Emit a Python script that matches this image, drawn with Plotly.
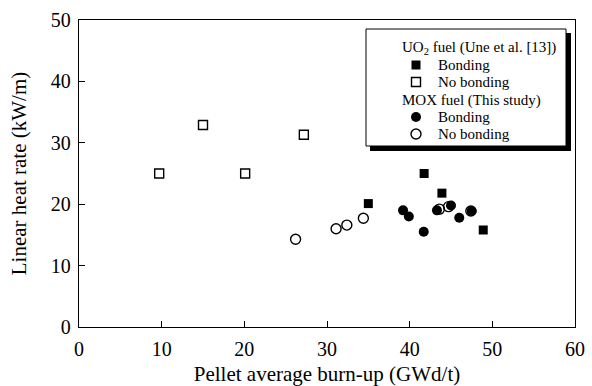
import plotly.graph_objects as go

# ---- data ----
uo2_bond_x = [35.0, 41.75, 43.9, 48.9]
uo2_bond_y = [20.1, 25.0, 21.8, 15.8]
uo2_nobond_x = [9.7, 15.0, 20.1, 27.2]
uo2_nobond_y = [25.0, 32.9, 25.0, 31.3]
mox_bond_x = [39.2, 39.9, 41.7, 43.3, 45.0, 46.0, 47.5]
mox_bond_y = [19.0, 18.0, 15.5, 19.0, 19.8, 17.8, 18.9]
mox_nobond_x = [26.2, 31.1, 32.4, 34.4, 43.6, 44.7, 47.4]
mox_nobond_y = [14.3, 16.0, 16.6, 17.7, 19.2, 19.6, 18.9]

x_ticks = [0, 10, 20, 30, 40, 50, 60]
y_ticks = [0, 10, 20, 30, 40, 50]

legend_titles = ["UO<sub>2</sub> fuel (Une et al. [13])", "MOX fuel (This study)"]
legend_labels = ["Bonding", "No bonding", "Bonding", "No bonding"]

FONT = "Liberation Serif"
W, H = 592, 386
ML, MR, MT, MB = 79, 17, 20, 59

SQ = dict(size=9, color="black")
SQO = dict(symbol="square-open", size=9, color="black", line=dict(width=1.4))
CI = dict(symbol="circle", size=10, color="black")
CIO = dict(symbol="circle-open", size=10, color="black", line=dict(width=1.4))

fig = go.Figure()
fig.add_trace(go.Scatter(x=uo2_bond_x, y=uo2_bond_y, mode="markers",
                         marker=dict(symbol="square", **SQ), showlegend=False))
fig.add_trace(go.Scatter(x=uo2_nobond_x, y=uo2_nobond_y, mode="markers",
                         marker=SQO, showlegend=False))
fig.add_trace(go.Scatter(x=mox_bond_x, y=mox_bond_y, mode="markers",
                         marker=CI, showlegend=False))
fig.add_trace(go.Scatter(x=mox_nobond_x, y=mox_nobond_y, mode="markers",
                         marker=CIO, showlegend=False))

# ---- legend (drawn on an auxiliary pixel-coordinate axis pair) ----
row_y = [48, 65, 82, 100, 117, 134]
key_x = 416
text_x = 436
title_x = 400
key_styles = [dict(symbol="square", **SQ), SQO, CI, CIO]
key_rows = [row_y[1], row_y[2], row_y[4], row_y[5]]
for st, ry in zip(key_styles, key_rows):
    fig.add_trace(go.Scatter(x=[key_x], y=[ry], mode="markers", marker=st,
                             xaxis="x2", yaxis="y2", showlegend=False,
                             hoverinfo="skip"))

annotations = []
for t, ry in zip(legend_titles, [row_y[0], row_y[3]]):
    annotations.append(dict(text=t, x=title_x, y=ry, xref="x2", yref="y2",
                            xanchor="left", yanchor="middle", showarrow=False,
                            font=dict(family=FONT, size=15, color="black")))
for t, ry in zip(legend_labels, key_rows):
    annotations.append(dict(text=t, x=text_x, y=ry, xref="x2", yref="y2",
                            xanchor="left", yanchor="middle", showarrow=False,
                            font=dict(family=FONT, size=15, color="black")))

axis_common = dict(
    showline=True, linecolor="black", linewidth=1.3, mirror=True,
    ticks="inside", ticklen=6, tickcolor="black", tickwidth=1,
    showgrid=False, zeroline=False, automargin=False,
    tickfont=dict(family=FONT, size=20, color="black"),
)

fig.update_layout(
    width=W, height=H,
    margin=dict(l=ML, r=MR, t=MT, b=MB),
    paper_bgcolor="white", plot_bgcolor="white",
    font=dict(family=FONT, color="black"),
    showlegend=False,
    xaxis=dict(range=[0, 60], tickvals=x_ticks, ticklabelstandoff=4,
               title=dict(text="Pellet average burn-up (GWd/t)",
                          font=dict(family=FONT, size=21), standoff=12),
               **axis_common),
    yaxis=dict(range=[0, 50], tickvals=y_ticks, ticklabelstandoff=3,
               title=dict(text="Linear heat rate (kW/m)",
                          font=dict(family=FONT, size=21), standoff=18),
               **axis_common),
    xaxis2=dict(range=[ML, W - MR], overlaying="x", anchor="y2",
                visible=False, fixedrange=True),
    yaxis2=dict(range=[H - MB, MT], overlaying="y", anchor="x2",
                visible=False, fixedrange=True),
    annotations=annotations,
    shapes=[
        dict(type="rect", xref="x2", yref="y2", x0=370, x1=571, y0=33, y1=151,
             fillcolor="black", line=dict(width=0), layer="below"),
        dict(type="rect", xref="x2", yref="y2", x0=366, x1=566, y0=29, y1=146,
             fillcolor="white", line=dict(color="black", width=1), layer="below"),
    ],
)

fig.write_html("out.html")
